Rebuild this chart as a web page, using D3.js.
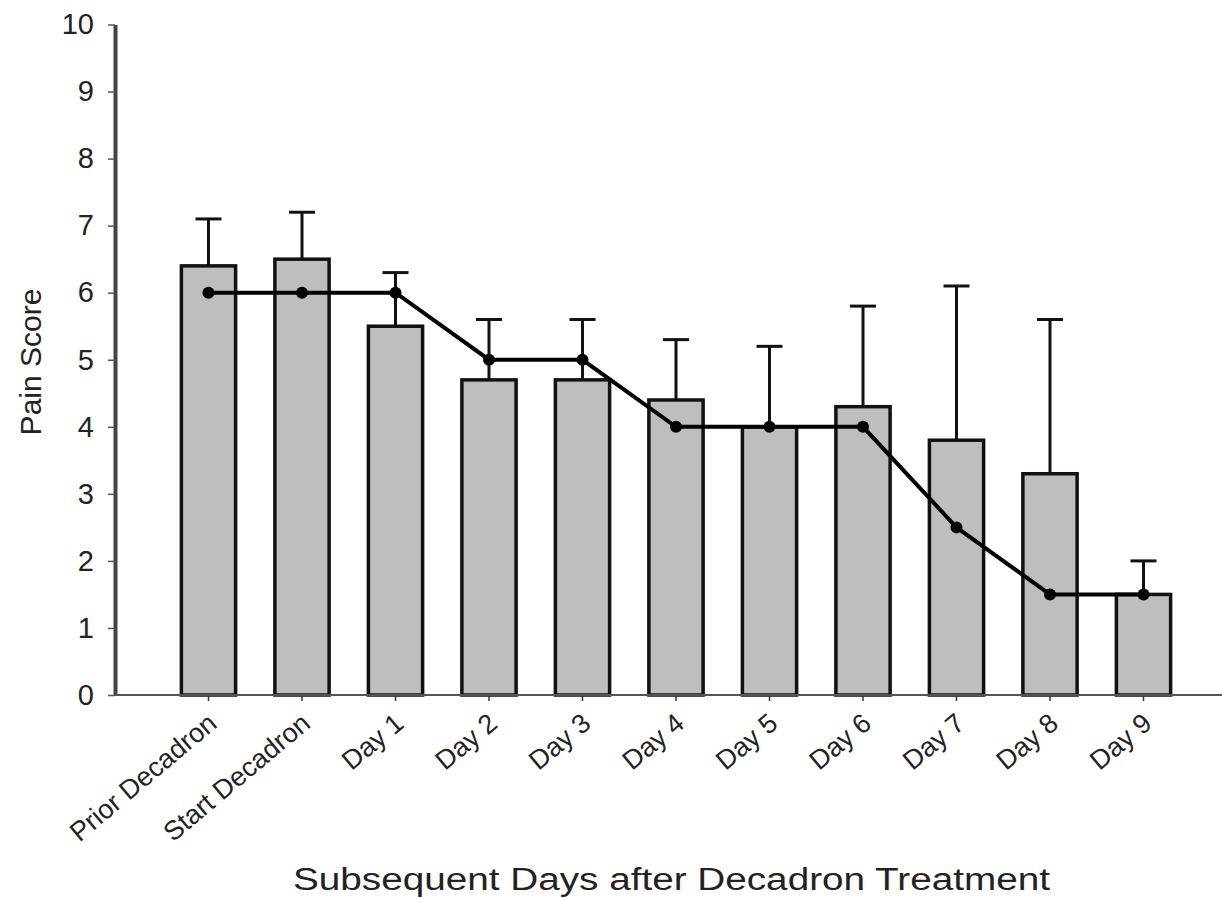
<!DOCTYPE html>
<html>
<head>
<meta charset="utf-8">
<script src="https://cdn.jsdelivr.net/npm/d3@7/dist/d3.min.js"></script>
<style>
  html, body { margin: 0; padding: 0; background: #fff; }
  svg { display: block; font-family: "Liberation Sans", Arial, sans-serif; }
</style>
</head>
<body>
<svg id="chart" width="1222" height="899"></svg>
<script>
const categories = ["Prior Decadron", "Start Decadron", "Day 1", "Day 2", "Day 3", "Day 4", "Day 5", "Day 6", "Day 7", "Day 8", "Day 9"];
const barValues = [6.4, 6.5, 5.5, 4.7, 4.7, 4.4, 4.0, 4.3, 3.8, 3.3, 1.5];
const errorTops = [7.1, 7.2, 6.3, 5.6, 5.6, 5.3, 5.2, 5.8, 6.1, 5.6, 2.0];
const lineValues = [6, 6, 6, 5, 5, 4, 4, 4, 2.5, 1.5, 1.5];
const yTicks = [0, 1, 2, 3, 4, 5, 6, 7, 8, 9, 10];
const yLabel = "Pain Score";
const xLabel = "Subsequent Days after Decadron Treatment";

const svg = d3.select("#chart");
const axisX = 115, baseY = 695, topY = 24.5;

const x = d3.scaleBand().domain(categories).range([axisX, 1237]).paddingInner(0.42).paddingOuter(0.71);
const y = d3.scaleLinear().domain([0, 10]).range([baseY, topY]);

const data = categories.map((c, i) => ({ c, v: barValues[i], e: errorTops[i], m: lineValues[i] }));
const cx = d => x(d.c) + x.bandwidth() / 2;

// error bars
const err = svg.append("g");
err.selectAll("line.stem").data(data).join("line")
  .attr("x1", cx).attr("x2", cx)
  .attr("y1", d => y(d.v)).attr("y2", d => y(d.e))
  .attr("stroke", "#111").attr("stroke-width", 3);
err.selectAll("line.cap").data(data).join("line")
  .attr("x1", d => cx(d) - 13).attr("x2", d => cx(d) + 13)
  .attr("y1", d => y(d.e)).attr("y2", d => y(d.e))
  .attr("stroke", "#111").attr("stroke-width", 3);

// bars
svg.append("g").selectAll("rect").data(data).join("rect")
  .attr("x", d => x(d.c)).attr("width", x.bandwidth())
  .attr("y", d => y(d.v)).attr("height", d => y(0) - y(d.v))
  .attr("fill", "#bebebe").attr("stroke", "#111").attr("stroke-width", 3.5);

// y axis
const yAxis = svg.append("g").attr("transform", `translate(${axisX},0)`)
  .call(d3.axisLeft(y).tickValues(yTicks).tickSize(7).tickSizeOuter(0).tickPadding(14));
yAxis.select(".domain").attr("stroke", "#444").attr("stroke-width", 4);
yAxis.selectAll(".tick line").attr("stroke", "#555").attr("stroke-width", 1.5);
yAxis.selectAll(".tick text").attr("font-size", 29).attr("fill", "#222")
  .attr("font-family", "Liberation Sans, Arial, sans-serif");

// x axis
const xAxis = svg.append("g").attr("transform", `translate(0,${baseY})`)
  .call(d3.axisBottom(x).tickSize(6).tickSizeOuter(0));
xAxis.select(".domain").remove();
xAxis.append("line").attr("x1", axisX).attr("x2", 1222).attr("y1", 0).attr("y2", 0)
  .attr("stroke", "#555").attr("stroke-width", 2);
xAxis.selectAll(".tick line").attr("stroke", "#333").attr("stroke-width", 1.5);
xAxis.selectAll(".tick text")
  .attr("font-size", 27).attr("fill", "#222")
  .attr("font-family", "Liberation Sans, Arial, sans-serif")
  .attr("text-anchor", "end")
  .attr("dy", null)
  .attr("y", 0)
  .attr("transform", "translate(10,31) rotate(-40)");

// line + points
const line = d3.line().x(cx).y(d => y(d.m));
svg.append("path").datum(data).attr("d", line)
  .attr("fill", "none").attr("stroke", "#000").attr("stroke-width", 4);
svg.append("g").selectAll("circle").data(data).join("circle")
  .attr("cx", cx).attr("cy", d => y(d.m)).attr("r", 6).attr("fill", "#000");

// axis titles
svg.append("text").attr("transform", "translate(41,362) rotate(-90)")
  .attr("text-anchor", "middle").attr("font-size", 30).attr("fill", "#222")
  .text(yLabel);
svg.append("text").attr("x", 293).attr("y", 890)
  .attr("font-size", 31).attr("fill", "#222")
  .attr("textLength", 757).attr("lengthAdjust", "spacingAndGlyphs")
  .text(xLabel);
</script>
</body>
</html>
